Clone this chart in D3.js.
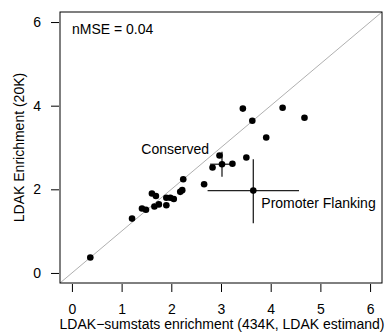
<!DOCTYPE html>
<html>
<head>
<meta charset="utf-8">
<script src="https://cdn.jsdelivr.net/npm/d3@7"></script>
<style>
  html, body { margin: 0; padding: 0; background: #fff; }
  text { font-family: "Liberation Sans", Arial, Helvetica, sans-serif; fill: #000; }
</style>
</head>
<body>
<svg id="chart" width="385" height="333"></svg>
<script>
// Per-annotation enrichment estimates
const sumstatsEnrichment = [0.37, 1.21, 1.41, 1.49, 1.61, 1.69, 1.66, 1.75, 1.90, 1.90, 1.98, 2.05, 2.18, 2.22, 2.24,
                            2.66, 2.83, 2.97, 3.23, 3.51, 3.44, 3.63, 4.24, 4.68, 3.91];
const ldakEnrichment     = [0.37, 1.30, 1.54, 1.51, 1.90, 1.84, 1.59, 1.64, 1.80, 1.62, 1.80, 1.77, 1.94, 1.98, 2.24,
                            2.12, 2.52, 2.81, 2.61, 2.76, 3.93, 3.64, 3.95, 3.71, 3.24];

// Highlighted annotations with standard-error bars
const labelNames = ["Conserved", "Promoter Flanking"];
const labelX     = [3.02, 3.65];
const labelY     = [2.60, 1.97];
const labelXLow  = [2.78, 2.73];
const labelXHigh = [3.24, 4.57];
const labelYLow  = [2.30, 1.19];
const labelYHigh = [2.90, 2.72];

const xTicks = [0, 1, 2, 3, 4, 5, 6];
const yTicks = [0, 2, 4, 6];
const nmseText = "nMSE = 0.04";

const svg = d3.select("#chart");
const plotLeft = 60, plotRight = 382, plotTop = 12, plotBottom = 283;

const x = d3.scaleLinear().domain([-0.24, 6.24]).range([plotLeft, plotRight]);
const y = d3.scaleLinear().domain([-0.24, 6.24]).range([plotBottom, plotTop]);

// identity line
svg.append("line")
  .attr("x1", x(-0.24)).attr("y1", y(-0.24))
  .attr("x2", x(6.24)).attr("y2", y(6.24))
  .attr("stroke", "#b0b0b0").attr("stroke-width", 1);

// axes
const xAxis = d3.axisBottom(x).tickValues(xTicks).tickSize(8).tickPadding(12).tickFormat(d3.format("d"));
const gx = svg.append("g").attr("transform", `translate(0,${plotBottom + 1})`).call(xAxis);
gx.select(".domain").remove();
gx.selectAll("text").style("font-size", "14px").style("font-family", "'Liberation Sans', Arial, sans-serif");

const yAxis = d3.axisLeft(y).tickValues(yTicks).tickSize(8).tickPadding(10).tickFormat(d3.format("d"));
const gy = svg.append("g").attr("transform", `translate(${plotLeft - 1},0)`).call(yAxis);
gy.select(".domain").remove();
gy.selectAll("text").style("font-size", "14px").style("font-family", "'Liberation Sans', Arial, sans-serif");

// error bars
const bars = svg.append("g").attr("stroke", "#222").attr("stroke-width", 1.3);
labelNames.forEach((n, i) => {
  bars.append("line")
    .attr("x1", x(labelXLow[i])).attr("x2", x(labelXHigh[i]))
    .attr("y1", y(labelY[i])).attr("y2", y(labelY[i]));
  bars.append("line")
    .attr("x1", x(labelX[i])).attr("x2", x(labelX[i]))
    .attr("y1", y(labelYLow[i])).attr("y2", y(labelYHigh[i]));
});

// points
svg.append("g").selectAll("circle")
  .data(sumstatsEnrichment.map((v, i) => [v, ldakEnrichment[i]]))
  .join("circle")
  .attr("cx", d => x(d[0])).attr("cy", d => y(d[1]))
  .attr("r", 3.3).attr("fill", "#000");

svg.append("g").selectAll("circle")
  .data(labelX.map((v, i) => [v, labelY[i]]))
  .join("circle")
  .attr("cx", d => x(d[0])).attr("cy", d => y(d[1]))
  .attr("r", 3.3).attr("fill", "#000");

// annotation labels
svg.append("text").attr("x", x(labelXLow[0]) - 1).attr("y", y(labelYHigh[0]) + 2)
  .attr("text-anchor", "end").style("font-size", "14px").text(labelNames[0]);
svg.append("text").attr("x", x(labelX[1]) + 8).attr("y", y(labelY[1]) + 17)
  .attr("text-anchor", "start").style("font-size", "14px").text(labelNames[1]);

// nMSE note
svg.append("text").attr("x", 72).attr("y", 33.5).style("font-size", "14px").text(nmseText);

// frame
svg.append("rect").attr("x", plotLeft).attr("y", plotTop)
  .attr("width", plotRight - plotLeft).attr("height", plotBottom - plotTop)
  .attr("fill", "none").attr("stroke", "#000").attr("stroke-width", 1);

// axis titles
svg.append("text").attr("x", (plotLeft + plotRight) / 2 + 1).attr("y", 329)
  .attr("text-anchor", "middle").style("font-size", "14px")
  .text("LDAK\u2212sumstats enrichment (434K, LDAK estimand)");
svg.append("text").attr("transform", `translate(24,${(plotTop + plotBottom) / 2}) rotate(-90)`)
  .attr("text-anchor", "middle").style("font-size", "14px")
  .text("LDAK Enrichment (20K)");
</script>
</body>
</html>
